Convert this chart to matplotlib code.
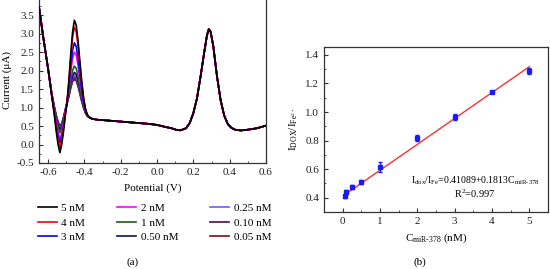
import numpy as np
import matplotlib
matplotlib.use('Agg')
import matplotlib.pyplot as plt
from matplotlib.ticker import MultipleLocator

plt.rcParams['font.family'] = ['Liberation Serif', 'DejaVu Serif']
plt.rcParams['mathtext.fontset'] = 'custom'
plt.rcParams['mathtext.rm'] = 'Liberation Serif'
plt.rcParams['mathtext.it'] = 'Liberation Serif:italic'
plt.rcParams['font.size'] = 8

# ---- panel (a): DPV curves ----
labels = ['5 nM', '4 nM', '3 nM', '2 nM', '1 nM', '0.50 nM', '0.25 nM', '0.10 nM', '0.05 nM']
colors = ['#000000', '#ff0000', '#0000ff', '#ff00ff', '#1a5e1a', '#10105a', '#6a5aff', '#4a0a4a', '#7a1010']

# shared start of the scan
pot_start = [-0.65, -0.625, -0.60]
cur_start = [3.72, 2.85, 2.05]

# region where the curves differ (DOX peak)
pot_mid = [-0.58, -0.565, -0.555, -0.545, -0.535, -0.525, -0.515, -0.505, -0.495, -0.485,
           -0.475, -0.465, -0.455, -0.445, -0.435, -0.425, -0.415, -0.405, -0.395, -0.385]
cur_5nM = [1.32, 0.78, 0.35, 0.00, -0.22, 0.00, 0.35, 0.78, 1.15, 1.75, 2.45, 3.05, 3.36, 3.22, 2.80, 2.25, 1.72, 1.28, 0.98, 0.82]
cur_4nM = [1.33, 0.82, 0.44, 0.12, -0.08, 0.12, 0.45, 0.85, 1.20, 1.72, 2.35, 2.90, 3.17, 3.05, 2.66, 2.15, 1.66, 1.25, 0.97, 0.82]
cur_3nM = [1.34, 0.86, 0.52, 0.24, 0.05, 0.22, 0.52, 0.88, 1.18, 1.60, 2.12, 2.55, 2.75, 2.65, 2.32, 1.90, 1.50, 1.17, 0.93, 0.80]
cur_2nM = [1.35, 0.90, 0.58, 0.33, 0.15, 0.30, 0.58, 0.90, 1.16, 1.52, 1.96, 2.34, 2.50, 2.42, 2.14, 1.78, 1.43, 1.13, 0.92, 0.80]
cur_1nM = [1.36, 0.95, 0.68, 0.46, 0.32, 0.42, 0.64, 0.90, 1.12, 1.40, 1.74, 2.00, 2.12, 2.06, 1.85, 1.57, 1.30, 1.06, 0.89, 0.78]
cur_050nM = [1.37, 0.98, 0.73, 0.53, 0.40, 0.48, 0.68, 0.92, 1.12, 1.36, 1.64, 1.86, 1.95, 1.90, 1.72, 1.48, 1.24, 1.03, 0.88, 0.78]
cur_025nM = [1.37, 0.99, 0.75, 0.56, 0.43, 0.51, 0.70, 0.93, 1.12, 1.34, 1.60, 1.80, 1.88, 1.83, 1.66, 1.44, 1.21, 1.02, 0.87, 0.78]
cur_010nM = [1.38, 1.00, 0.77, 0.59, 0.47, 0.54, 0.72, 0.94, 1.12, 1.33, 1.57, 1.75, 1.82, 1.78, 1.62, 1.41, 1.19, 1.01, 0.87, 0.78]
cur_005nM = [1.38, 1.01, 0.79, 0.62, 0.50, 0.57, 0.74, 0.95, 1.12, 1.31, 1.53, 1.70, 1.76, 1.72, 1.57, 1.37, 1.17, 1.00, 0.86, 0.78]

# shared tail (plateau + Fe peak)
pot_tail = [-0.375, -0.36, -0.33, -0.30, -0.25, -0.20, -0.15, -0.10, -0.05, 0.0, 0.05, 0.08, 0.11,
            0.13, 0.16, 0.18, 0.20, 0.22, 0.24, 0.26, 0.275, 0.285, 0.295, 0.31, 0.33, 0.35,
            0.37, 0.39, 0.41, 0.43, 0.46, 0.50, 0.55, 0.60]
cur_tail = [0.74, 0.70, 0.67, 0.66, 0.64, 0.62, 0.60, 0.58, 0.56, 0.53, 0.47, 0.44, 0.39,
            0.385, 0.44, 0.58, 0.85, 1.25, 1.85, 2.50, 2.95, 3.12, 3.05, 2.65, 1.85, 1.20,
            0.78, 0.55, 0.45, 0.40, 0.38, 0.40, 0.44, 0.51]

curves = [cur_5nM, cur_4nM, cur_3nM, cur_2nM, cur_1nM, cur_050nM, cur_025nM, cur_010nM, cur_005nM]

# ---- panel (b): calibration ----
conc = [0.05, 0.10, 0.25, 0.50, 1.0, 2.0, 3.0, 4.0, 5.0]
ratio = [0.41, 0.44, 0.475, 0.51, 0.615, 0.82, 0.965, 1.14, 1.285]
ratio_err = [0.012, 0.015, 0.015, 0.012, 0.035, 0.02, 0.02, 0.01, 0.02]
fit_intercept = 0.41089
fit_slope = 0.1813
fit_range = [0.05, 5.0]

fig = plt.figure(figsize=(5.5, 2.69), dpi=100)
W, H = 550, 269

ax1 = fig.add_axes([39 / W, 1 - 163 / H, 227 / W, 163 / H + 0.01])
lines = []
for lab, col, cur in zip(labels, colors, curves):
    pot = pot_start + pot_mid + pot_tail
    cc = cur_start + cur + cur_tail
    ln, = ax1.plot(pot, cc, color=col, lw=1.2, label=lab)
    lines.append(ln)
# draw black on top
for z, ln in enumerate(lines):
    ln.set_zorder(10 - z)

ax1.set_xlim(-0.65, 0.6)
ax1.set_ylim(-0.5, 3.98)
ax1.xaxis.set_minor_locator(MultipleLocator(0.1))
ax1.yaxis.set_minor_locator(MultipleLocator(0.25))
ax1.set_xticks([-0.6, -0.4, -0.2, 0.0, 0.2, 0.4, 0.6])
ax1.set_xticklabels(['-0.6', '-0.4', '-0.2', '0.0', '0.2', '0.4', '0.6'])
ax1.set_yticks([-0.5, 0.0, 0.5, 1.0, 1.5, 2.0, 2.5, 3.0, 3.5])
ax1.set_yticklabels(['-0.5', '0.0', '0.5', '1.0', '1.5', '2.0', '2.5', '3.0', '3.5'])
ax1.set_xlabel('Potential (V)', labelpad=5)
ax1.set_ylabel('Current (μA)', labelpad=3)

ax2 = fig.add_axes([324 / W, 1 - 212 / H, 224 / W, 165 / H])
ax2.errorbar(conc, ratio, yerr=ratio_err, fmt='s', color='#1a1aff', ms=3.5,
             ecolor='#1a1aff', elinewidth=1, capsize=1.5, zorder=3)
fx = np.array(fit_range)
ax2.plot(fx, fit_intercept + fit_slope * fx, color='#ff3030', lw=1.0, zorder=2)
ax2.set_xlim(-0.5, 5.5)
ax2.set_ylim(0.3, 1.455)
ax2.xaxis.set_major_locator(MultipleLocator(1))
ax2.xaxis.set_minor_locator(MultipleLocator(0.5))
ax2.yaxis.set_major_locator(MultipleLocator(0.2))
ax2.yaxis.set_minor_locator(MultipleLocator(0.1))
ax2.set_xlabel(r'C$_{\rm miR\text{-}378}$ (nM)', labelpad=4)
ax2.set_ylabel(r'I$_{\rm DOX}$/I$_{\rm Fe^{2+}}$', labelpad=4)
ax2.text(3.55, 0.522, r'I$_{\rm dox}$/I$_{\rm Fe}$=0.41089+0.1813C$_{\rm miR\text{-}378}$',
         ha='center', va='center', fontsize=7)
ax2.text(3.55, 0.43, r'R$^2$=0.997', ha='center', va='center', fontsize=7.5)

for ax in (ax1, ax2):
    for sp in ax.spines.values():
        sp.set_color('#333333')
        sp.set_linewidth(0.9)
    ax.tick_params(which='both', direction='in', top=False, right=False, colors='#333333',
                   labelcolor='#222222', labelsize=8)
    ax.tick_params(which='major', length=3)
    ax.tick_params(which='minor', length=1.6)

fig.legend(handles=lines, loc='upper left', bbox_to_anchor=(38 / W, 1 - 203 / H), ncol=3,
           frameon=False, fontsize=8, handlelength=1.7, handletextpad=0.4,
           columnspacing=2.9, labelspacing=0.45, borderpad=0, borderaxespad=0)

fig.text(133 / W, 1 - 262 / H, '(a)', ha='center', va='center', fontsize=8)
fig.text(420 / W, 1 - 262 / H, '(b)', ha='center', va='center', fontsize=8)

fig.savefig('out.png', dpi=100)
